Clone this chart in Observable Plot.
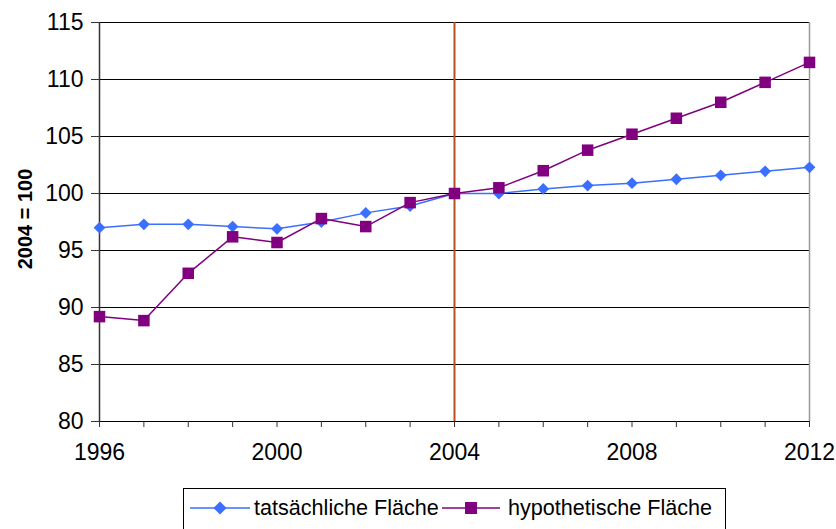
<!DOCTYPE html>
<html><head><meta charset="utf-8">
<script src="https://cdn.jsdelivr.net/npm/d3@7"></script>
<script src="https://cdn.jsdelivr.net/npm/@observablehq/plot@0.6"></script>
<style>
body{margin:0;background:#fff;font-family:"Liberation Sans",Arial,sans-serif;}
#wrap{position:relative;width:836px;height:529px;overflow:hidden;}
#legend{position:absolute;left:183px;top:488px;width:543px;height:50px;border:1px solid #000;box-sizing:border-box;font-size:21.6px;color:#000;}
#legend .item{position:absolute;top:7px;display:flex;align-items:center;line-height:24px;}
#legend svg{margin-right:2px}
</style></head><body>
<div id="wrap"><div id="chart"></div>
<div id="legend">
 <div class="item" style="left:6px"><svg width="62" height="16"><line x1="0" y1="8" x2="60" y2="8" stroke="#3a6fff" stroke-width="1.5"/><path d="M30,1.5 L36.5,8 L30,14.5 L23.5,8Z" fill="#3a6fff"/></svg><span>tatsächliche Fläche</span></div>
 <div class="item" style="left:258px"><svg width="64" height="16"><line x1="0" y1="8" x2="58" y2="8" stroke="#800080" stroke-width="1.5"/><rect x="23" y="2" width="12" height="12" fill="#800080"/></svg><span>hypothetische Fläche</span></div>
</div></div>
<script>
const years = [1996,1997,1998,1999,2000,2001,2002,2003,2004,2005,2006,2007,2008,2009,2010,2011,2012];
const actual = [97.0,97.3,97.3,97.1,96.9,97.5,98.3,98.9,100.0,100.0,100.4,100.7,100.9,101.25,101.6,101.95,102.3];
const hypothetical = [89.2,88.85,93.0,96.2,95.7,97.8,97.1,99.2,100.0,100.5,102.0,103.8,105.2,106.6,108.0,109.75,111.5];
const yTicks = [80,85,90,95,100,105,110,115];
const xLabels = [1996,2000,2004,2008,2012];
const refYear = [2004];
const yTitle = "2004 = 100";

const dA = years.map((y,i)=>({year:y,v:actual[i]}));
const dH = years.map((y,i)=>({year:y,v:hypothetical[i]}));

const chart = Plot.plot({
  width:836, height:470,
  marginLeft:99, marginRight:27, marginTop:22, marginBottom:49,
  style:{fontFamily:"Liberation Sans, Arial, sans-serif", fontSize:"20px", color:"#000", background:"#fff", overflow:"visible"},
  x:{domain:[1996,2012]},
  y:{domain:[80,115]},
  marks:[
    Plot.ruleY(yTicks,{stroke:"#000",strokeWidth:1}),
    Plot.ruleX([2012],{stroke:"#999",strokeWidth:1.5}),
    Plot.ruleX(refYear,{stroke:"#b5501f",strokeWidth:2}),
    Plot.axisX({ticks:years, tickSize:6, tickPadding:16, fontSize:23, tickFormat:d=>xLabels.includes(d)?String(d):"", label:null, stroke:"#333"}),
    Plot.axisY({ticks:yTicks, tickSize:8, tickPadding:8, fontSize:23, label:null, stroke:"#333"}),
    Plot.text([yTitle],{frameAnchor:"left", textAnchor:"middle", dx:-74, dy:-3, rotate:-90, fontWeight:"bold", fontSize:20, fill:"#000"}),
    Plot.ruleX([1996],{stroke:"#333",strokeWidth:1.5}),
    Plot.line(dA,{x:"year",y:"v",stroke:"#3a6fff",strokeWidth:1.5}),
    Plot.dot(dA,{x:"year",y:"v",symbol:"diamond2",r:5.3,fill:"#3a6fff",stroke:"none"}),
    Plot.line(dH,{x:"year",y:"v",stroke:"#800080",strokeWidth:1.5}),
    Plot.dot(dH,{x:"year",y:"v",symbol:"square",r:6.5,fill:"#800080",stroke:"none"})
  ]
});
document.getElementById("chart").appendChild(chart);
</script></body></html>
